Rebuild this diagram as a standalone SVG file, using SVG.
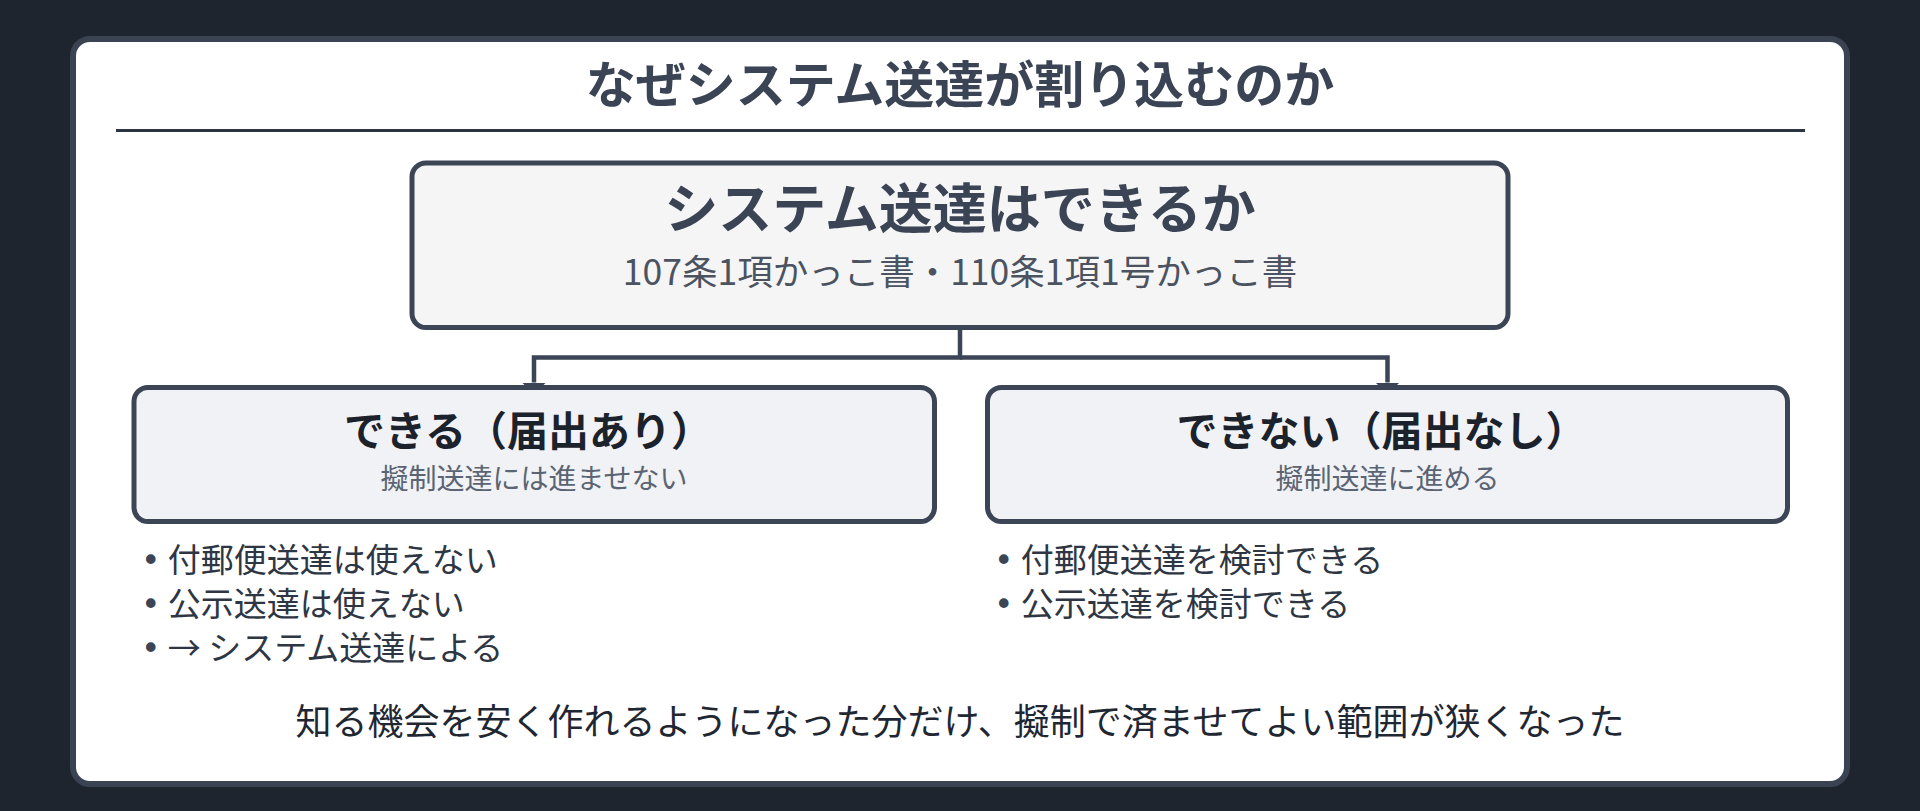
<svg xmlns="http://www.w3.org/2000/svg" width="1920" height="811" viewBox="0 0 1920 811">
  <style>
    text { font-family: "Noto Sans CJK JP", "Noto Sans", sans-serif; }
    .title { font-size: 50px; font-weight: 700; fill: #3a4454; }
    .q-title { font-size: 54px; font-weight: 700; fill: #3a4454; }
    .q-sub { font-size: 35.5px; fill: #4b5361; }
    .b-title { font-size: 41px; font-weight: 700; fill: #1c222c; }
    .b-sub { font-size: 28px; fill: #5b6473; }
    .bullet { font-size: 33px; fill: #2e3643; }
    .dot { font-family: "DejaVu Sans", sans-serif; fill: #3b4556; }
    .footer { font-size: 36px; fill: #1f2733; }
    .conn { fill: none; stroke: #3b4556; stroke-width: 4.5; }
  </style>
  <defs>
    <marker id="arrow" markerUnits="userSpaceOnUse" viewBox="0 0 12 24" refX="0" refY="12" markerWidth="12" markerHeight="24" orient="auto">
      <path d="M0,0 L12,12 L0,24 z" fill="#3b4556"/>
    </marker>
  </defs>
  <rect width="1920" height="811" fill="#1e252f"/>
  <g id="card">
    <rect x="73" y="39" width="1774" height="745" rx="17" fill="#ffffff" stroke="#3a4352" stroke-width="6"/>
    <text class="title" x="960" y="103" text-anchor="middle">なぜシステム送達が割り込むのか</text>
    <line x1="116" y1="130.5" x2="1805" y2="130.5" stroke="#2d3441" stroke-width="3"/>
  </g>
  <g id="connectors">
    <path class="conn" d="M960 328 V357.5 H534 V382.5" marker-end="url(#arrow)"/>
    <path class="conn" d="M960 357.5 H1387.5 V382.5" marker-end="url(#arrow)"/>
  </g>
  <g id="question">
    <rect x="412" y="163" width="1096" height="164.5" rx="14" fill="#f5f5f6" stroke="#3b4556" stroke-width="5"/>
    <text class="q-title" x="960" y="229" text-anchor="middle">システム送達はできるか</text>
    <text class="q-sub" x="960" y="285" text-anchor="middle">107条1項かっこ書・110条1項1号かっこ書</text>
  </g>
  <g id="yes">
    <rect x="134" y="387.5" width="800.5" height="134" rx="14" fill="#f0f2f5" stroke="#3b4556" stroke-width="5"/>
    <text class="b-title" x="528" y="446" text-anchor="middle">できる（届出あり）</text>
    <text class="b-sub" x="534" y="489" text-anchor="middle">擬制送達には進ませない</text>
  </g>
  <g id="no">
    <rect x="987.5" y="387.5" width="800" height="134" rx="14" fill="#f0f2f5" stroke="#3b4556" stroke-width="5"/>
    <text class="b-title" x="1381.5" y="446" text-anchor="middle">できない（届出なし）</text>
    <text class="b-sub" x="1387.5" y="489" text-anchor="middle">擬制送達に進める</text>
  </g>
  <g id="yes-list">
    <text class="bullet" x="141" y="572"><tspan class="dot">•</tspan> 付郵便送達は使えない</text>
    <text class="bullet" x="141" y="616"><tspan class="dot">•</tspan> 公示送達は使えない</text>
    <text class="bullet" x="141" y="660"><tspan class="dot">•</tspan> → システム送達による</text>
  </g>
  <g id="no-list">
    <text class="bullet" x="994" y="572"><tspan class="dot">•</tspan> 付郵便送達を検討できる</text>
    <text class="bullet" x="994" y="616"><tspan class="dot">•</tspan> 公示送達を検討できる</text>
  </g>
  <g id="footer">
    <text class="footer" x="960" y="735" text-anchor="middle">知る機会を安く作れるようになった分だけ、擬制で済ませてよい範囲が狭くなった</text>
  </g>
</svg>
